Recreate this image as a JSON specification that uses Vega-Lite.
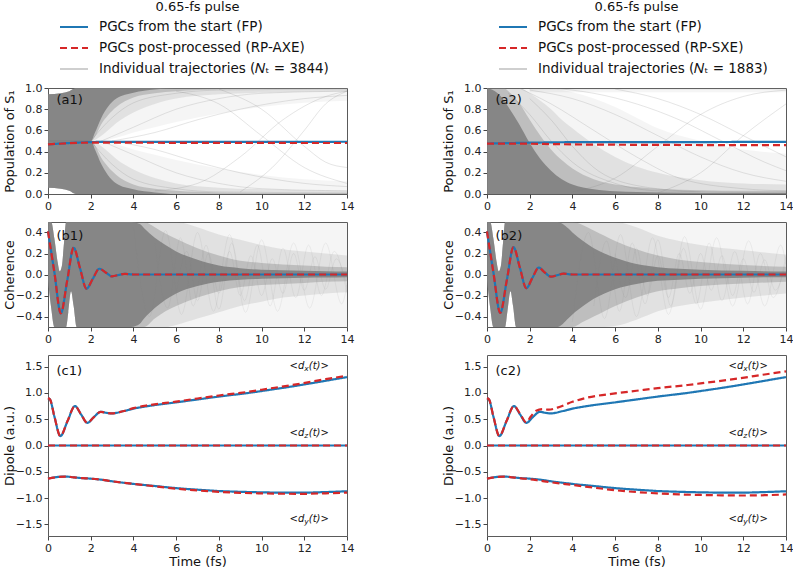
{
  "$schema": "https://vega.github.io/schema/vega-lite/v6.json",
  "background": "white",
  "padding": {"left": 2, "top": 0, "right": 0, "bottom": 0},
  "config": {
    "font": "DejaVu Sans",
    "view": {"stroke": "#5a5a5a", "strokeWidth": 1},
    "axis": {"domain": false, "grid": false, "tickColor": "#444", "tickSize": 4, "tickWidth": 1, "labelFontSize": 11, "labelColor": "#222", "labelFont": "DejaVu Sans", "labelPadding": 2, "labelFlush": false, "labelOverlap": false, "titleFontSize": 13, "titleFontWeight": "normal", "titleColor": "#111", "titleFont": "DejaVu Sans"},
    "axisX": {"titlePadding": 2},
    "legend": {"layout": {"top": {"anchor": "middle"}}}
  },
  "datasets": {
    "mean": [
      {"p":"a1","s":"FP","c":"m","t":0,"v":0.468},{"p":"a1","s":"FP","c":"m","t":0.5,"v":0.475},{"p":"a1","s":"FP","c":"m","t":1,"v":0.481},{"p":"a1","s":"FP","c":"m","t":1.5,"v":0.486},{"p":"a1","s":"FP","c":"m","t":2,"v":0.49},{"p":"a1","s":"FP","c":"m","t":3,"v":0.492},{"p":"a1","s":"FP","c":"m","t":4,"v":0.492},{"p":"a1","s":"FP","c":"m","t":6,"v":0.492},{"p":"a1","s":"FP","c":"m","t":8,"v":0.492},{"p":"a1","s":"FP","c":"m","t":10,"v":0.492},{"p":"a1","s":"FP","c":"m","t":12,"v":0.492},{"p":"a1","s":"FP","c":"m","t":14,"v":0.493},
      {"p":"a1","s":"RP","c":"m","t":0,"v":0.468},{"p":"a1","s":"RP","c":"m","t":0.5,"v":0.474},{"p":"a1","s":"RP","c":"m","t":1,"v":0.479},{"p":"a1","s":"RP","c":"m","t":1.5,"v":0.483},{"p":"a1","s":"RP","c":"m","t":2,"v":0.485},{"p":"a1","s":"RP","c":"m","t":3,"v":0.485},{"p":"a1","s":"RP","c":"m","t":4,"v":0.484},{"p":"a1","s":"RP","c":"m","t":6,"v":0.483},{"p":"a1","s":"RP","c":"m","t":8,"v":0.482},{"p":"a1","s":"RP","c":"m","t":10,"v":0.482},{"p":"a1","s":"RP","c":"m","t":12,"v":0.481},{"p":"a1","s":"RP","c":"m","t":14,"v":0.481},
      {"p":"a2","s":"FP","c":"m","t":0,"v":0.476},{"p":"a2","s":"FP","c":"m","t":1,"v":0.48},{"p":"a2","s":"FP","c":"m","t":2,"v":0.484},{"p":"a2","s":"FP","c":"m","t":3,"v":0.487},{"p":"a2","s":"FP","c":"m","t":4,"v":0.489},{"p":"a2","s":"FP","c":"m","t":6,"v":0.49},{"p":"a2","s":"FP","c":"m","t":8,"v":0.49},{"p":"a2","s":"FP","c":"m","t":10,"v":0.49},{"p":"a2","s":"FP","c":"m","t":12,"v":0.491},{"p":"a2","s":"FP","c":"m","t":14,"v":0.491},
      {"p":"a2","s":"RP","c":"m","t":0,"v":0.476},{"p":"a2","s":"RP","c":"m","t":1,"v":0.476},{"p":"a2","s":"RP","c":"m","t":2,"v":0.474},{"p":"a2","s":"RP","c":"m","t":3,"v":0.471},{"p":"a2","s":"RP","c":"m","t":4,"v":0.468},{"p":"a2","s":"RP","c":"m","t":6,"v":0.465},{"p":"a2","s":"RP","c":"m","t":8,"v":0.463},{"p":"a2","s":"RP","c":"m","t":10,"v":0.462},{"p":"a2","s":"RP","c":"m","t":12,"v":0.461},{"p":"a2","s":"RP","c":"m","t":14,"v":0.461},
      {"p":"b1","s":"FP","c":"m","t":0,"v":0.41},{"p":"b1","s":"FP","c":"m","t":0.3,"v":0.02},{"p":"b1","s":"FP","c":"m","t":0.6,"v":-0.37},{"p":"b1","s":"FP","c":"m","t":0.9,"v":-0.057},{"p":"b1","s":"FP","c":"m","t":1.2,"v":0.255},{"p":"b1","s":"FP","c":"m","t":1.5,"v":0.06},{"p":"b1","s":"FP","c":"m","t":1.8,"v":-0.135},{"p":"b1","s":"FP","c":"m","t":2.1,"v":-0.04},{"p":"b1","s":"FP","c":"m","t":2.4,"v":0.055},{"p":"b1","s":"FP","c":"m","t":2.7,"v":0.019},{"p":"b1","s":"FP","c":"m","t":3,"v":-0.017},{"p":"b1","s":"FP","c":"m","t":3.3,"v":-0.005},{"p":"b1","s":"FP","c":"m","t":3.6,"v":0.006},{"p":"b1","s":"FP","c":"m","t":4,"v":0},{"p":"b1","s":"FP","c":"m","t":5,"v":0},{"p":"b1","s":"FP","c":"m","t":14,"v":0},
      {"p":"b1","s":"RP","c":"m","t":0,"v":0.41},{"p":"b1","s":"RP","c":"m","t":0.3,"v":0.02},{"p":"b1","s":"RP","c":"m","t":0.6,"v":-0.37},{"p":"b1","s":"RP","c":"m","t":0.9,"v":-0.057},{"p":"b1","s":"RP","c":"m","t":1.2,"v":0.255},{"p":"b1","s":"RP","c":"m","t":1.5,"v":0.06},{"p":"b1","s":"RP","c":"m","t":1.8,"v":-0.135},{"p":"b1","s":"RP","c":"m","t":2.1,"v":-0.04},{"p":"b1","s":"RP","c":"m","t":2.4,"v":0.055},{"p":"b1","s":"RP","c":"m","t":2.7,"v":0.019},{"p":"b1","s":"RP","c":"m","t":3,"v":-0.017},{"p":"b1","s":"RP","c":"m","t":3.3,"v":-0.005},{"p":"b1","s":"RP","c":"m","t":3.6,"v":0.006},{"p":"b1","s":"RP","c":"m","t":4,"v":0},{"p":"b1","s":"RP","c":"m","t":5,"v":0},{"p":"b1","s":"RP","c":"m","t":14,"v":0},
      {"p":"b2","s":"FP","c":"m","t":0,"v":0.41},{"p":"b2","s":"FP","c":"m","t":0.3,"v":0.02},{"p":"b2","s":"FP","c":"m","t":0.62,"v":-0.365},{"p":"b2","s":"FP","c":"m","t":0.93,"v":-0.052},{"p":"b2","s":"FP","c":"m","t":1.24,"v":0.26},{"p":"b2","s":"FP","c":"m","t":1.54,"v":0.065},{"p":"b2","s":"FP","c":"m","t":1.84,"v":-0.13},{"p":"b2","s":"FP","c":"m","t":2.13,"v":-0.03},{"p":"b2","s":"FP","c":"m","t":2.42,"v":0.065},{"p":"b2","s":"FP","c":"m","t":2.7,"v":0.02},{"p":"b2","s":"FP","c":"m","t":3,"v":-0.02},{"p":"b2","s":"FP","c":"m","t":3.3,"v":-0.006},{"p":"b2","s":"FP","c":"m","t":3.58,"v":0.008},{"p":"b2","s":"FP","c":"m","t":4,"v":0},{"p":"b2","s":"FP","c":"m","t":5,"v":0},{"p":"b2","s":"FP","c":"m","t":14,"v":0},
      {"p":"b2","s":"RP","c":"m","t":0,"v":0.41},{"p":"b2","s":"RP","c":"m","t":0.3,"v":0.02},{"p":"b2","s":"RP","c":"m","t":0.62,"v":-0.365},{"p":"b2","s":"RP","c":"m","t":0.93,"v":-0.052},{"p":"b2","s":"RP","c":"m","t":1.24,"v":0.26},{"p":"b2","s":"RP","c":"m","t":1.54,"v":0.065},{"p":"b2","s":"RP","c":"m","t":1.84,"v":-0.13},{"p":"b2","s":"RP","c":"m","t":2.13,"v":-0.03},{"p":"b2","s":"RP","c":"m","t":2.42,"v":0.065},{"p":"b2","s":"RP","c":"m","t":2.7,"v":0.02},{"p":"b2","s":"RP","c":"m","t":3,"v":-0.02},{"p":"b2","s":"RP","c":"m","t":3.3,"v":-0.006},{"p":"b2","s":"RP","c":"m","t":3.58,"v":0.008},{"p":"b2","s":"RP","c":"m","t":4,"v":0},{"p":"b2","s":"RP","c":"m","t":5,"v":0},{"p":"b2","s":"RP","c":"m","t":14,"v":0},
      {"p":"c1","s":"FP","c":"x","t":0,"v":0.9},{"p":"c1","s":"FP","c":"x","t":0.1,"v":0.87},{"p":"c1","s":"FP","c":"x","t":0.3,"v":0.55},{"p":"c1","s":"FP","c":"x","t":0.58,"v":0.18},{"p":"c1","s":"FP","c":"x","t":0.92,"v":0.47},{"p":"c1","s":"FP","c":"x","t":1.26,"v":0.75},{"p":"c1","s":"FP","c":"x","t":1.55,"v":0.59},{"p":"c1","s":"FP","c":"x","t":1.84,"v":0.43},{"p":"c1","s":"FP","c":"x","t":2.15,"v":0.54},{"p":"c1","s":"FP","c":"x","t":2.47,"v":0.64},{"p":"c1","s":"FP","c":"x","t":2.75,"v":0.62},{"p":"c1","s":"FP","c":"x","t":3,"v":0.61},{"p":"c1","s":"FP","c":"x","t":3.5,"v":0.65},{"p":"c1","s":"FP","c":"x","t":4,"v":0.7},{"p":"c1","s":"FP","c":"x","t":4.7,"v":0.75},{"p":"c1","s":"FP","c":"x","t":6,"v":0.82},{"p":"c1","s":"FP","c":"x","t":7,"v":0.875},{"p":"c1","s":"FP","c":"x","t":8,"v":0.93},{"p":"c1","s":"FP","c":"x","t":9.4,"v":1.0},{"p":"c1","s":"FP","c":"x","t":10,"v":1.035},{"p":"c1","s":"FP","c":"x","t":11.7,"v":1.14},{"p":"c1","s":"FP","c":"x","t":13,"v":1.23},{"p":"c1","s":"FP","c":"x","t":14,"v":1.3},
      {"p":"c1","s":"RP","c":"x","t":0,"v":0.9},{"p":"c1","s":"RP","c":"x","t":0.1,"v":0.87},{"p":"c1","s":"RP","c":"x","t":0.3,"v":0.55},{"p":"c1","s":"RP","c":"x","t":0.58,"v":0.18},{"p":"c1","s":"RP","c":"x","t":0.92,"v":0.47},{"p":"c1","s":"RP","c":"x","t":1.26,"v":0.75},{"p":"c1","s":"RP","c":"x","t":1.55,"v":0.59},{"p":"c1","s":"RP","c":"x","t":1.84,"v":0.43},{"p":"c1","s":"RP","c":"x","t":2.15,"v":0.54},{"p":"c1","s":"RP","c":"x","t":2.47,"v":0.64},{"p":"c1","s":"RP","c":"x","t":2.75,"v":0.62},{"p":"c1","s":"RP","c":"x","t":3,"v":0.61},{"p":"c1","s":"RP","c":"x","t":3.5,"v":0.65},{"p":"c1","s":"RP","c":"x","t":4,"v":0.71},{"p":"c1","s":"RP","c":"x","t":4.7,"v":0.765},{"p":"c1","s":"RP","c":"x","t":6,"v":0.835},{"p":"c1","s":"RP","c":"x","t":7,"v":0.893},{"p":"c1","s":"RP","c":"x","t":8,"v":0.95},{"p":"c1","s":"RP","c":"x","t":9.4,"v":1.022},{"p":"c1","s":"RP","c":"x","t":10,"v":1.06},{"p":"c1","s":"RP","c":"x","t":11.7,"v":1.167},{"p":"c1","s":"RP","c":"x","t":13,"v":1.26},{"p":"c1","s":"RP","c":"x","t":14,"v":1.325},
      {"p":"c1","s":"FP","c":"z","t":0,"v":0},{"p":"c1","s":"FP","c":"z","t":14,"v":0},{"p":"c1","s":"RP","c":"z","t":0,"v":0},{"p":"c1","s":"RP","c":"z","t":14,"v":0},
      {"p":"c1","s":"FP","c":"y","t":0,"v":-0.63},{"p":"c1","s":"FP","c":"y","t":0.4,"v":-0.6},{"p":"c1","s":"FP","c":"y","t":0.8,"v":-0.59},{"p":"c1","s":"FP","c":"y","t":1.2,"v":-0.605},{"p":"c1","s":"FP","c":"y","t":1.6,"v":-0.62},{"p":"c1","s":"FP","c":"y","t":2,"v":-0.63},{"p":"c1","s":"FP","c":"y","t":2.5,"v":-0.65},{"p":"c1","s":"FP","c":"y","t":3,"v":-0.68},{"p":"c1","s":"FP","c":"y","t":4,"v":-0.73},{"p":"c1","s":"FP","c":"y","t":5,"v":-0.77},{"p":"c1","s":"FP","c":"y","t":6,"v":-0.81},{"p":"c1","s":"FP","c":"y","t":7,"v":-0.84},{"p":"c1","s":"FP","c":"y","t":8,"v":-0.865},{"p":"c1","s":"FP","c":"y","t":9,"v":-0.88},{"p":"c1","s":"FP","c":"y","t":10,"v":-0.89},{"p":"c1","s":"FP","c":"y","t":11,"v":-0.895},{"p":"c1","s":"FP","c":"y","t":12,"v":-0.895},{"p":"c1","s":"FP","c":"y","t":13,"v":-0.885},{"p":"c1","s":"FP","c":"y","t":14,"v":-0.87},
      {"p":"c1","s":"RP","c":"y","t":0,"v":-0.63},{"p":"c1","s":"RP","c":"y","t":0.4,"v":-0.6},{"p":"c1","s":"RP","c":"y","t":0.8,"v":-0.59},{"p":"c1","s":"RP","c":"y","t":1.2,"v":-0.605},{"p":"c1","s":"RP","c":"y","t":1.6,"v":-0.62},{"p":"c1","s":"RP","c":"y","t":2,"v":-0.63},{"p":"c1","s":"RP","c":"y","t":2.5,"v":-0.65},{"p":"c1","s":"RP","c":"y","t":3,"v":-0.68},{"p":"c1","s":"RP","c":"y","t":4,"v":-0.73},{"p":"c1","s":"RP","c":"y","t":5,"v":-0.775},{"p":"c1","s":"RP","c":"y","t":6,"v":-0.82},{"p":"c1","s":"RP","c":"y","t":7,"v":-0.855},{"p":"c1","s":"RP","c":"y","t":8,"v":-0.88},{"p":"c1","s":"RP","c":"y","t":9,"v":-0.9},{"p":"c1","s":"RP","c":"y","t":10,"v":-0.91},{"p":"c1","s":"RP","c":"y","t":11,"v":-0.917},{"p":"c1","s":"RP","c":"y","t":12,"v":-0.918},{"p":"c1","s":"RP","c":"y","t":13,"v":-0.908},{"p":"c1","s":"RP","c":"y","t":14,"v":-0.895},
      {"p":"c2","s":"FP","c":"x","t":0,"v":0.9},{"p":"c2","s":"FP","c":"x","t":0.1,"v":0.87},{"p":"c2","s":"FP","c":"x","t":0.3,"v":0.55},{"p":"c2","s":"FP","c":"x","t":0.58,"v":0.18},{"p":"c2","s":"FP","c":"x","t":0.92,"v":0.47},{"p":"c2","s":"FP","c":"x","t":1.26,"v":0.75},{"p":"c2","s":"FP","c":"x","t":1.55,"v":0.59},{"p":"c2","s":"FP","c":"x","t":1.84,"v":0.43},{"p":"c2","s":"FP","c":"x","t":2.15,"v":0.54},{"p":"c2","s":"FP","c":"x","t":2.47,"v":0.64},{"p":"c2","s":"FP","c":"x","t":2.75,"v":0.62},{"p":"c2","s":"FP","c":"x","t":3,"v":0.61},{"p":"c2","s":"FP","c":"x","t":3.5,"v":0.65},{"p":"c2","s":"FP","c":"x","t":4,"v":0.7},{"p":"c2","s":"FP","c":"x","t":4.7,"v":0.75},{"p":"c2","s":"FP","c":"x","t":6,"v":0.82},{"p":"c2","s":"FP","c":"x","t":7,"v":0.875},{"p":"c2","s":"FP","c":"x","t":8,"v":0.93},{"p":"c2","s":"FP","c":"x","t":9.4,"v":1.0},{"p":"c2","s":"FP","c":"x","t":10,"v":1.035},{"p":"c2","s":"FP","c":"x","t":11.7,"v":1.14},{"p":"c2","s":"FP","c":"x","t":13,"v":1.23},{"p":"c2","s":"FP","c":"x","t":14,"v":1.3},
      {"p":"c2","s":"RP","c":"x","t":0,"v":0.9},{"p":"c2","s":"RP","c":"x","t":0.1,"v":0.87},{"p":"c2","s":"RP","c":"x","t":0.3,"v":0.55},{"p":"c2","s":"RP","c":"x","t":0.58,"v":0.18},{"p":"c2","s":"RP","c":"x","t":0.92,"v":0.47},{"p":"c2","s":"RP","c":"x","t":1.26,"v":0.75},{"p":"c2","s":"RP","c":"x","t":1.55,"v":0.6},{"p":"c2","s":"RP","c":"x","t":1.84,"v":0.44},{"p":"c2","s":"RP","c":"x","t":2.05,"v":0.55},{"p":"c2","s":"RP","c":"x","t":2.3,"v":0.66},{"p":"c2","s":"RP","c":"x","t":2.6,"v":0.69},{"p":"c2","s":"RP","c":"x","t":2.9,"v":0.68},{"p":"c2","s":"RP","c":"x","t":3.3,"v":0.72},{"p":"c2","s":"RP","c":"x","t":4,"v":0.83},{"p":"c2","s":"RP","c":"x","t":4.7,"v":0.91},{"p":"c2","s":"RP","c":"x","t":6,"v":0.99},{"p":"c2","s":"RP","c":"x","t":7,"v":1.04},{"p":"c2","s":"RP","c":"x","t":8,"v":1.09},{"p":"c2","s":"RP","c":"x","t":9.4,"v":1.15},{"p":"c2","s":"RP","c":"x","t":10,"v":1.18},{"p":"c2","s":"RP","c":"x","t":11.7,"v":1.27},{"p":"c2","s":"RP","c":"x","t":13,"v":1.35},{"p":"c2","s":"RP","c":"x","t":14,"v":1.41},
      {"p":"c2","s":"FP","c":"z","t":0,"v":0},{"p":"c2","s":"FP","c":"z","t":14,"v":0},{"p":"c2","s":"RP","c":"z","t":0,"v":0},{"p":"c2","s":"RP","c":"z","t":14,"v":0},
      {"p":"c2","s":"FP","c":"y","t":0,"v":-0.63},{"p":"c2","s":"FP","c":"y","t":0.4,"v":-0.6},{"p":"c2","s":"FP","c":"y","t":0.8,"v":-0.59},{"p":"c2","s":"FP","c":"y","t":1.2,"v":-0.605},{"p":"c2","s":"FP","c":"y","t":1.6,"v":-0.62},{"p":"c2","s":"FP","c":"y","t":2,"v":-0.63},{"p":"c2","s":"FP","c":"y","t":2.5,"v":-0.65},{"p":"c2","s":"FP","c":"y","t":3,"v":-0.68},{"p":"c2","s":"FP","c":"y","t":4,"v":-0.73},{"p":"c2","s":"FP","c":"y","t":5,"v":-0.77},{"p":"c2","s":"FP","c":"y","t":6,"v":-0.81},{"p":"c2","s":"FP","c":"y","t":7,"v":-0.84},{"p":"c2","s":"FP","c":"y","t":8,"v":-0.865},{"p":"c2","s":"FP","c":"y","t":9,"v":-0.88},{"p":"c2","s":"FP","c":"y","t":10,"v":-0.89},{"p":"c2","s":"FP","c":"y","t":11,"v":-0.895},{"p":"c2","s":"FP","c":"y","t":12,"v":-0.895},{"p":"c2","s":"FP","c":"y","t":13,"v":-0.885},{"p":"c2","s":"FP","c":"y","t":14,"v":-0.87},
      {"p":"c2","s":"RP","c":"y","t":0,"v":-0.63},{"p":"c2","s":"RP","c":"y","t":0.4,"v":-0.6},{"p":"c2","s":"RP","c":"y","t":0.8,"v":-0.59},{"p":"c2","s":"RP","c":"y","t":1.2,"v":-0.605},{"p":"c2","s":"RP","c":"y","t":1.6,"v":-0.625},{"p":"c2","s":"RP","c":"y","t":2,"v":-0.64},{"p":"c2","s":"RP","c":"y","t":2.5,"v":-0.67},{"p":"c2","s":"RP","c":"y","t":3,"v":-0.7},{"p":"c2","s":"RP","c":"y","t":4,"v":-0.75},{"p":"c2","s":"RP","c":"y","t":5,"v":-0.8},{"p":"c2","s":"RP","c":"y","t":6,"v":-0.85},{"p":"c2","s":"RP","c":"y","t":7,"v":-0.885},{"p":"c2","s":"RP","c":"y","t":8,"v":-0.91},{"p":"c2","s":"RP","c":"y","t":9,"v":-0.93},{"p":"c2","s":"RP","c":"y","t":10,"v":-0.94},{"p":"c2","s":"RP","c":"y","t":11,"v":-0.947},{"p":"c2","s":"RP","c":"y","t":12,"v":-0.95},{"p":"c2","s":"RP","c":"y","t":13,"v":-0.945},{"p":"c2","s":"RP","c":"y","t":14,"v":-0.93}
    ],
    "traj": [
      {"p":"a1","id":1,"t":2,"v":0.5},{"p":"a1","id":1,"t":3,"v":0.72},{"p":"a1","id":1,"t":4,"v":0.86},{"p":"a1","id":1,"t":6,"v":0.95},{"p":"a1","id":1,"t":8,"v":0.98},{"p":"a1","id":1,"t":14,"v":0.99},
      {"p":"a1","id":2,"t":2,"v":0.5},{"p":"a1","id":2,"t":3,"v":0.28},{"p":"a1","id":2,"t":4,"v":0.14},{"p":"a1","id":2,"t":6,"v":0.05},{"p":"a1","id":2,"t":8,"v":0.02},{"p":"a1","id":2,"t":14,"v":0.01},
      {"p":"a1","id":3,"t":2.5,"v":0.5},{"p":"a1","id":3,"t":4,"v":0.63},{"p":"a1","id":3,"t":6,"v":0.8},{"p":"a1","id":3,"t":8,"v":0.9},{"p":"a1","id":3,"t":10,"v":0.95},{"p":"a1","id":3,"t":14,"v":0.97},
      {"p":"a1","id":4,"t":2.5,"v":0.5},{"p":"a1","id":4,"t":4,"v":0.37},{"p":"a1","id":4,"t":6,"v":0.2},{"p":"a1","id":4,"t":8,"v":0.1},{"p":"a1","id":4,"t":10,"v":0.05},{"p":"a1","id":4,"t":14,"v":0.03},
      {"p":"a1","id":5,"t":5,"v":0.03},{"p":"a1","id":5,"t":7,"v":0.1},{"p":"a1","id":5,"t":9,"v":0.35},{"p":"a1","id":5,"t":11,"v":0.7},{"p":"a1","id":5,"t":13,"v":0.92},{"p":"a1","id":5,"t":14,"v":0.97},
      {"p":"a1","id":6,"t":6,"v":0.97},{"p":"a1","id":6,"t":8,"v":0.85},{"p":"a1","id":6,"t":10,"v":0.55},{"p":"a1","id":6,"t":12,"v":0.25},{"p":"a1","id":6,"t":14,"v":0.1},
      {"p":"a1","id":7,"t":3,"v":0.5},{"p":"a1","id":7,"t":5,"v":0.58},{"p":"a1","id":7,"t":7,"v":0.7},{"p":"a1","id":7,"t":9,"v":0.8},{"p":"a1","id":7,"t":12,"v":0.9},{"p":"a1","id":7,"t":14,"v":0.93},
      {"p":"a1","id":8,"t":3,"v":0.5},{"p":"a1","id":8,"t":5,"v":0.42},{"p":"a1","id":8,"t":7,"v":0.3},{"p":"a1","id":8,"t":9,"v":0.2},{"p":"a1","id":8,"t":12,"v":0.1},{"p":"a1","id":8,"t":14,"v":0.07},
      {"p":"a1","id":9,"t":9,"v":0.02},{"p":"a1","id":9,"t":10.5,"v":0.25},{"p":"a1","id":9,"t":12,"v":0.6},{"p":"a1","id":9,"t":13,"v":0.85},{"p":"a1","id":9,"t":14,"v":0.97},
      {"p":"a1","id":10,"t":8,"v":0.99},{"p":"a1","id":10,"t":10,"v":0.8},{"p":"a1","id":10,"t":12,"v":0.45},{"p":"a1","id":10,"t":13,"v":0.3},{"p":"a1","id":10,"t":14,"v":0.25},
      {"p":"a2","id":1,"t":1,"v":0.95},{"p":"a2","id":1,"t":2,"v":0.75},{"p":"a2","id":1,"t":3,"v":0.5},{"p":"a2","id":1,"t":4,"v":0.3},{"p":"a2","id":1,"t":6,"v":0.1},{"p":"a2","id":1,"t":8,"v":0.03},{"p":"a2","id":1,"t":14,"v":0.01},
      {"p":"a2","id":2,"t":1.5,"v":1},{"p":"a2","id":2,"t":3,"v":0.85},{"p":"a2","id":2,"t":5,"v":0.6},{"p":"a2","id":2,"t":7,"v":0.35},{"p":"a2","id":2,"t":9,"v":0.15},{"p":"a2","id":2,"t":12,"v":0.05},{"p":"a2","id":2,"t":14,"v":0.03},
      {"p":"a2","id":3,"t":2,"v":0.98},{"p":"a2","id":3,"t":4,"v":0.9},{"p":"a2","id":3,"t":6,"v":0.75},{"p":"a2","id":3,"t":8,"v":0.55},{"p":"a2","id":3,"t":10,"v":0.35},{"p":"a2","id":3,"t":12,"v":0.2},{"p":"a2","id":3,"t":14,"v":0.12},
      {"p":"a2","id":4,"t":3,"v":1},{"p":"a2","id":4,"t":5,"v":0.95},{"p":"a2","id":4,"t":7,"v":0.85},{"p":"a2","id":4,"t":9,"v":0.7},{"p":"a2","id":4,"t":11,"v":0.5},{"p":"a2","id":4,"t":13,"v":0.3},{"p":"a2","id":4,"t":14,"v":0.22},
      {"p":"a2","id":5,"t":4,"v":0.02},{"p":"a2","id":5,"t":6,"v":0.15},{"p":"a2","id":5,"t":8,"v":0.45},{"p":"a2","id":5,"t":10,"v":0.75},{"p":"a2","id":5,"t":12,"v":0.92},{"p":"a2","id":5,"t":14,"v":0.98},
      {"p":"a2","id":6,"t":6,"v":0.99},{"p":"a2","id":6,"t":8,"v":0.9},{"p":"a2","id":6,"t":10,"v":0.75},{"p":"a2","id":6,"t":12,"v":0.55},{"p":"a2","id":6,"t":14,"v":0.35},
      {"p":"a2","id":7,"t":8,"v":0.01},{"p":"a2","id":7,"t":10,"v":0.2},{"p":"a2","id":7,"t":12,"v":0.55},{"p":"a2","id":7,"t":14,"v":0.85},
      {"p":"a2","id":8,"t":2,"v":0.9},{"p":"a2","id":8,"t":3,"v":0.7},{"p":"a2","id":8,"t":4,"v":0.45},{"p":"a2","id":8,"t":5,"v":0.25},{"p":"a2","id":8,"t":7,"v":0.08},{"p":"a2","id":8,"t":10,"v":0.02},
      {"p":"b1","id":1,"t":5,"v":0.3},{"p":"b1","id":1,"t":5.6,"v":-0.32},{"p":"b1","id":1,"t":6.2,"v":0.35},{"p":"b1","id":1,"t":6.8,"v":-0.3},{"p":"b1","id":1,"t":7.4,"v":0.28},{"p":"b1","id":1,"t":8,"v":-0.33},{"p":"b1","id":1,"t":8.6,"v":0.3},{"p":"b1","id":1,"t":9.2,"v":-0.25},{"p":"b1","id":1,"t":9.8,"v":0.28},{"p":"b1","id":1,"t":10.4,"v":-0.3},{"p":"b1","id":1,"t":11,"v":0.25},{"p":"b1","id":1,"t":11.6,"v":-0.22},{"p":"b1","id":1,"t":12.2,"v":0.28},{"p":"b1","id":1,"t":12.8,"v":-0.2},{"p":"b1","id":1,"t":13.4,"v":0.22},{"p":"b1","id":1,"t":14,"v":-0.18},
      {"p":"b1","id":2,"t":6,"v":-0.2},{"p":"b1","id":2,"t":6.5,"v":0.22},{"p":"b1","id":2,"t":7,"v":-0.25},{"p":"b1","id":2,"t":7.5,"v":0.2},{"p":"b1","id":2,"t":8,"v":-0.18},{"p":"b1","id":2,"t":8.5,"v":0.22},{"p":"b1","id":2,"t":9,"v":-0.2},{"p":"b1","id":2,"t":9.5,"v":0.18},{"p":"b1","id":2,"t":10,"v":-0.2},{"p":"b1","id":2,"t":10.5,"v":0.15},{"p":"b1","id":2,"t":11,"v":-0.18},{"p":"b1","id":2,"t":11.5,"v":0.2},{"p":"b1","id":2,"t":12,"v":-0.15},{"p":"b1","id":2,"t":12.5,"v":0.17},{"p":"b1","id":2,"t":13,"v":-0.14},{"p":"b1","id":2,"t":13.5,"v":0.15},{"p":"b1","id":2,"t":14,"v":-0.12},
      {"p":"b1","id":3,"t":4,"v":0.45},{"p":"b1","id":3,"t":4.75,"v":-0.4},{"p":"b1","id":3,"t":5.5,"v":0.42},{"p":"b1","id":3,"t":6.25,"v":-0.38},{"p":"b1","id":3,"t":7,"v":0.4},{"p":"b1","id":3,"t":7.75,"v":-0.35},{"p":"b1","id":3,"t":8.5,"v":0.38},{"p":"b1","id":3,"t":9.25,"v":-0.36},{"p":"b1","id":3,"t":10,"v":0.33},{"p":"b1","id":3,"t":10.75,"v":-0.35},{"p":"b1","id":3,"t":11.5,"v":0.3},{"p":"b1","id":3,"t":12.25,"v":-0.32},{"p":"b1","id":3,"t":13,"v":0.3},{"p":"b1","id":3,"t":13.75,"v":-0.28},{"p":"b1","id":3,"t":14,"v":-0.1},
      {"p":"b2","id":1,"t":5,"v":-0.3},{"p":"b2","id":1,"t":5.6,"v":0.32},{"p":"b2","id":1,"t":6.2,"v":-0.35},{"p":"b2","id":1,"t":6.8,"v":0.3},{"p":"b2","id":1,"t":7.4,"v":-0.28},{"p":"b2","id":1,"t":8,"v":0.33},{"p":"b2","id":1,"t":8.6,"v":-0.3},{"p":"b2","id":1,"t":9.2,"v":0.25},{"p":"b2","id":1,"t":9.8,"v":-0.28},{"p":"b2","id":1,"t":10.4,"v":0.3},{"p":"b2","id":1,"t":11,"v":-0.25},{"p":"b2","id":1,"t":11.6,"v":0.22},{"p":"b2","id":1,"t":12.2,"v":-0.28},{"p":"b2","id":1,"t":12.8,"v":0.2},{"p":"b2","id":1,"t":13.4,"v":-0.22},{"p":"b2","id":1,"t":14,"v":0.18},
      {"p":"b2","id":2,"t":6,"v":0.2},{"p":"b2","id":2,"t":6.5,"v":-0.22},{"p":"b2","id":2,"t":7,"v":0.25},{"p":"b2","id":2,"t":7.5,"v":-0.2},{"p":"b2","id":2,"t":8,"v":0.18},{"p":"b2","id":2,"t":8.5,"v":-0.22},{"p":"b2","id":2,"t":9,"v":0.2},{"p":"b2","id":2,"t":9.5,"v":-0.18},{"p":"b2","id":2,"t":10,"v":0.2},{"p":"b2","id":2,"t":10.5,"v":-0.15},{"p":"b2","id":2,"t":11,"v":0.18},{"p":"b2","id":2,"t":11.5,"v":-0.2},{"p":"b2","id":2,"t":12,"v":0.15},{"p":"b2","id":2,"t":12.5,"v":-0.17},{"p":"b2","id":2,"t":13,"v":0.14},{"p":"b2","id":2,"t":13.5,"v":-0.15},{"p":"b2","id":2,"t":14,"v":0.12},
      {"p":"b2","id":3,"t":4,"v":-0.45},{"p":"b2","id":3,"t":4.75,"v":0.4},{"p":"b2","id":3,"t":5.5,"v":-0.42},{"p":"b2","id":3,"t":6.25,"v":0.38},{"p":"b2","id":3,"t":7,"v":-0.4},{"p":"b2","id":3,"t":7.75,"v":0.35},{"p":"b2","id":3,"t":8.5,"v":-0.38},{"p":"b2","id":3,"t":9.25,"v":0.36},{"p":"b2","id":3,"t":10,"v":-0.33},{"p":"b2","id":3,"t":10.75,"v":0.35},{"p":"b2","id":3,"t":11.5,"v":-0.3},{"p":"b2","id":3,"t":12.25,"v":0.32},{"p":"b2","id":3,"t":13,"v":-0.3},{"p":"b2","id":3,"t":13.75,"v":0.28},{"p":"b2","id":3,"t":14,"v":0.1}
    ],
    "cloud": [
      {"p":"a1","h":"u","t":0,"lo1":0.495,"hi1":0.94,"lo2":0.495,"hi2":0.94,"lo3":0.495,"hi3":0.94,"lo4":0.495,"hi4":0.94},
      {"p":"a1","h":"u","t":0.6,"lo1":0.495,"hi1":0.95,"lo2":0.495,"hi2":0.95,"lo3":0.495,"hi3":0.95,"lo4":0.495,"hi4":0.95},
      {"p":"a1","h":"u","t":1,"lo1":0.495,"hi1":0.97,"lo2":0.495,"hi2":0.97,"lo3":0.495,"hi3":0.97,"lo4":0.495,"hi4":0.97},
      {"p":"a1","h":"u","t":1.3,"lo1":0.495,"hi1":1,"lo2":0.495,"hi2":1,"lo3":0.495,"hi3":1,"lo4":0.495,"hi4":1},
      {"p":"a1","h":"u","t":2,"lo1":0.495,"hi1":1,"lo2":0.495,"hi2":1,"lo3":0.495,"hi3":1,"lo4":0.495,"hi4":1},
      {"p":"a1","h":"u","t":2.2,"lo1":0.495,"hi1":1,"lo2":0.51,"hi2":1,"lo3":0.54,"hi3":1,"lo4":0.58,"hi4":1},
      {"p":"a1","h":"u","t":2.5,"lo1":0.495,"hi1":1,"lo2":0.55,"hi2":1,"lo3":0.66,"hi3":1,"lo4":0.72,"hi4":1},
      {"p":"a1","h":"u","t":2.8,"lo1":0.51,"hi1":1,"lo2":0.6,"hi2":1,"lo3":0.74,"hi3":1,"lo4":0.82,"hi4":1},
      {"p":"a1","h":"u","t":3.2,"lo1":0.53,"hi1":1,"lo2":0.67,"hi2":1,"lo3":0.82,"hi3":1,"lo4":0.9,"hi4":1},
      {"p":"a1","h":"u","t":4,"lo1":0.58,"hi1":1,"lo2":0.77,"hi2":1,"lo3":0.91,"hi3":1,"lo4":0.955,"hi4":1},
      {"p":"a1","h":"u","t":5,"lo1":0.63,"hi1":1,"lo2":0.85,"hi2":1,"lo3":0.95,"hi3":1,"lo4":0.985,"hi4":1},
      {"p":"a1","h":"u","t":6,"lo1":0.68,"hi1":1,"lo2":0.9,"hi2":1,"lo3":0.97,"hi3":1,"lo4":1,"hi4":1},
      {"p":"a1","h":"u","t":8,"lo1":0.76,"hi1":1,"lo2":0.94,"hi2":1,"lo3":0.985,"hi3":1,"lo4":1,"hi4":1},
      {"p":"a1","h":"u","t":10,"lo1":0.82,"hi1":1,"lo2":0.955,"hi2":1,"lo3":0.99,"hi3":1,"lo4":1,"hi4":1},
      {"p":"a1","h":"u","t":12,"lo1":0.86,"hi1":1,"lo2":0.965,"hi2":1,"lo3":0.99,"hi3":1,"lo4":1,"hi4":1},
      {"p":"a1","h":"u","t":14,"lo1":0.88,"hi1":1,"lo2":0.97,"hi2":1,"lo3":0.99,"hi3":1,"lo4":1,"hi4":1},
      {"p":"a1","h":"d","t":0,"lo1":0.06,"hi1":0.505,"lo2":0.06,"hi2":0.505,"lo3":0.06,"hi3":0.505,"lo4":0.06,"hi4":0.505},
      {"p":"a1","h":"d","t":0.6,"lo1":0.05,"hi1":0.505,"lo2":0.05,"hi2":0.505,"lo3":0.05,"hi3":0.505,"lo4":0.05,"hi4":0.505},
      {"p":"a1","h":"d","t":1,"lo1":0.03,"hi1":0.505,"lo2":0.03,"hi2":0.505,"lo3":0.03,"hi3":0.505,"lo4":0.03,"hi4":0.505},
      {"p":"a1","h":"d","t":1.3,"lo1":0,"hi1":0.505,"lo2":0,"hi2":0.505,"lo3":0,"hi3":0.505,"lo4":0,"hi4":0.505},
      {"p":"a1","h":"d","t":2,"lo1":0,"hi1":0.505,"lo2":0,"hi2":0.505,"lo3":0,"hi3":0.505,"lo4":0,"hi4":0.505},
      {"p":"a1","h":"d","t":2.2,"lo1":0,"hi1":0.505,"lo2":0,"hi2":0.49,"lo3":0,"hi3":0.46,"lo4":0,"hi4":0.42},
      {"p":"a1","h":"d","t":2.5,"lo1":0,"hi1":0.505,"lo2":0,"hi2":0.45,"lo3":0,"hi3":0.34,"lo4":0,"hi4":0.28},
      {"p":"a1","h":"d","t":2.8,"lo1":0,"hi1":0.49,"lo2":0,"hi2":0.4,"lo3":0,"hi3":0.26,"lo4":0,"hi4":0.18},
      {"p":"a1","h":"d","t":3.2,"lo1":0,"hi1":0.47,"lo2":0,"hi2":0.33,"lo3":0,"hi3":0.18,"lo4":0,"hi4":0.1},
      {"p":"a1","h":"d","t":4,"lo1":0,"hi1":0.42,"lo2":0,"hi2":0.23,"lo3":0,"hi3":0.09,"lo4":0,"hi4":0.045},
      {"p":"a1","h":"d","t":5,"lo1":0,"hi1":0.37,"lo2":0,"hi2":0.15,"lo3":0,"hi3":0.05,"lo4":0,"hi4":0.015},
      {"p":"a1","h":"d","t":6,"lo1":0,"hi1":0.32,"lo2":0,"hi2":0.1,"lo3":0,"hi3":0.03,"lo4":0,"hi4":0},
      {"p":"a1","h":"d","t":8,"lo1":0,"hi1":0.24,"lo2":0,"hi2":0.06,"lo3":0,"hi3":0.015,"lo4":0,"hi4":0},
      {"p":"a1","h":"d","t":10,"lo1":0,"hi1":0.18,"lo2":0,"hi2":0.045,"lo3":0,"hi3":0.01,"lo4":0,"hi4":0},
      {"p":"a1","h":"d","t":12,"lo1":0,"hi1":0.14,"lo2":0,"hi2":0.035,"lo3":0,"hi3":0.01,"lo4":0,"hi4":0},
      {"p":"a1","h":"d","t":14,"lo1":0,"hi1":0.12,"lo2":0,"hi2":0.03,"lo3":0,"hi3":0.01,"lo4":0,"hi4":0},
      {"p":"a2","h":"d","t":0,"lo1":0,"hi1":1,"lo2":0,"hi2":1,"lo3":0,"hi3":1,"lo4":0,"hi4":1},
      {"p":"a2","h":"d","t":0.5,"lo1":0,"hi1":1,"lo2":0,"hi2":1,"lo3":0,"hi3":1,"lo4":0,"hi4":0.95},
      {"p":"a2","h":"d","t":0.8,"lo1":0,"hi1":1,"lo2":0,"hi2":1,"lo3":0,"hi3":1,"lo4":0,"hi4":0.88},
      {"p":"a2","h":"d","t":1,"lo1":0,"hi1":1,"lo2":0,"hi2":1,"lo3":0,"hi3":0.97,"lo4":0,"hi4":0.82},
      {"p":"a2","h":"d","t":1.5,"lo1":0,"hi1":1,"lo2":0,"hi2":1,"lo3":0,"hi3":0.86,"lo4":0,"hi4":0.66},
      {"p":"a2","h":"d","t":2,"lo1":0,"hi1":1,"lo2":0,"hi2":0.95,"lo3":0,"hi3":0.7,"lo4":0,"hi4":0.48},
      {"p":"a2","h":"d","t":2.5,"lo1":0,"hi1":1,"lo2":0,"hi2":0.88,"lo3":0,"hi3":0.55,"lo4":0,"hi4":0.33},
      {"p":"a2","h":"d","t":3,"lo1":0,"hi1":1,"lo2":0,"hi2":0.8,"lo3":0,"hi3":0.42,"lo4":0,"hi4":0.22},
      {"p":"a2","h":"d","t":3.5,"lo1":0,"hi1":0.98,"lo2":0,"hi2":0.7,"lo3":0,"hi3":0.32,"lo4":0,"hi4":0.14},
      {"p":"a2","h":"d","t":4,"lo1":0,"hi1":0.96,"lo2":0,"hi2":0.62,"lo3":0,"hi3":0.24,"lo4":0,"hi4":0.09},
      {"p":"a2","h":"d","t":5,"lo1":0,"hi1":0.9,"lo2":0,"hi2":0.47,"lo3":0,"hi3":0.14,"lo4":0,"hi4":0.045},
      {"p":"a2","h":"d","t":6,"lo1":0,"hi1":0.82,"lo2":0,"hi2":0.35,"lo3":0,"hi3":0.09,"lo4":0,"hi4":0.025},
      {"p":"a2","h":"d","t":7,"lo1":0,"hi1":0.72,"lo2":0,"hi2":0.26,"lo3":0,"hi3":0.065,"lo4":0,"hi4":0.018},
      {"p":"a2","h":"d","t":8,"lo1":0,"hi1":0.62,"lo2":0,"hi2":0.2,"lo3":0,"hi3":0.05,"lo4":0,"hi4":0.015},
      {"p":"a2","h":"d","t":10,"lo1":0,"hi1":0.5,"lo2":0,"hi2":0.13,"lo3":0,"hi3":0.035,"lo4":0,"hi4":0.01},
      {"p":"a2","h":"d","t":12,"lo1":0,"hi1":0.42,"lo2":0,"hi2":0.1,"lo3":0,"hi3":0.03,"lo4":0,"hi4":0.01},
      {"p":"a2","h":"d","t":14,"lo1":0,"hi1":0.38,"lo2":0,"hi2":0.09,"lo3":0,"hi3":0.03,"lo4":0,"hi4":0.01},
      {"p":"a2","h":"u","t":2,"lo1":0.96,"hi1":1,"lo2":0.985,"hi2":1,"lo3":1,"hi3":1,"lo4":1,"hi4":1},
      {"p":"a2","h":"u","t":14,"lo1":0.96,"hi1":1,"lo2":0.985,"hi2":1,"lo3":1,"hi3":1,"lo4":1,"hi4":1},
      {"p":"b1","h":"m","t":0,"lo1":-0.05,"hi1":0.5,"lo2":-0.05,"hi2":0.5,"lo3":-0.05,"hi3":0.5,"lo4":-0.05,"hi4":0.5},
      {"p":"b1","h":"m","t":0.15,"lo1":-0.32,"hi1":0.5,"lo2":-0.32,"hi2":0.5,"lo3":-0.32,"hi3":0.5,"lo4":-0.32,"hi4":0.5},
      {"p":"b1","h":"m","t":0.3,"lo1":-0.5,"hi1":0.34,"lo2":-0.5,"hi2":0.34,"lo3":-0.5,"hi3":0.34,"lo4":-0.5,"hi4":0.34},
      {"p":"b1","h":"m","t":0.45,"lo1":-0.5,"hi1":0.12,"lo2":-0.5,"hi2":0.12,"lo3":-0.5,"hi3":0.12,"lo4":-0.5,"hi4":0.12},
      {"p":"b1","h":"m","t":0.55,"lo1":-0.5,"hi1":0.03,"lo2":-0.5,"hi2":0.03,"lo3":-0.5,"hi3":0.03,"lo4":-0.5,"hi4":0.03},
      {"p":"b1","h":"m","t":0.65,"lo1":-0.5,"hi1":0.08,"lo2":-0.5,"hi2":0.08,"lo3":-0.5,"hi3":0.08,"lo4":-0.5,"hi4":0.08},
      {"p":"b1","h":"m","t":0.75,"lo1":-0.5,"hi1":0.3,"lo2":-0.5,"hi2":0.3,"lo3":-0.5,"hi3":0.3,"lo4":-0.5,"hi4":0.3},
      {"p":"b1","h":"m","t":0.85,"lo1":-0.5,"hi1":0.5,"lo2":-0.5,"hi2":0.5,"lo3":-0.5,"hi3":0.5,"lo4":-0.5,"hi4":0.5},
      {"p":"b1","h":"m","t":0.95,"lo1":-0.36,"hi1":0.5,"lo2":-0.36,"hi2":0.5,"lo3":-0.36,"hi3":0.5,"lo4":-0.36,"hi4":0.5},
      {"p":"b1","h":"m","t":1.08,"lo1":-0.16,"hi1":0.5,"lo2":-0.16,"hi2":0.5,"lo3":-0.16,"hi3":0.5,"lo4":-0.16,"hi4":0.5},
      {"p":"b1","h":"m","t":1.2,"lo1":-0.3,"hi1":0.5,"lo2":-0.3,"hi2":0.5,"lo3":-0.3,"hi3":0.5,"lo4":-0.3,"hi4":0.5},
      {"p":"b1","h":"m","t":1.35,"lo1":-0.5,"hi1":0.5,"lo2":-0.5,"hi2":0.5,"lo3":-0.5,"hi3":0.5,"lo4":-0.5,"hi4":0.5},
      {"p":"b1","h":"m","t":3.9,"lo1":-0.5,"hi1":0.5,"lo2":-0.5,"hi2":0.5,"lo3":-0.5,"hi3":0.5,"lo4":-0.5,"hi4":0.5},
      {"p":"b1","h":"m","t":4.3,"lo1":-0.5,"hi1":0.5,"lo2":-0.5,"hi2":0.5,"lo3":-0.5,"hi3":0.5,"lo4":-0.47,"hi4":0.48},
      {"p":"b1","h":"m","t":4.5,"lo1":-0.5,"hi1":0.5,"lo2":-0.5,"hi2":0.5,"lo3":-0.5,"hi3":0.5,"lo4":-0.42,"hi4":0.44},
      {"p":"b1","h":"m","t":5,"lo1":-0.5,"hi1":0.5,"lo2":-0.5,"hi2":0.5,"lo3":-0.42,"hi3":0.45,"lo4":-0.32,"hi4":0.35},
      {"p":"b1","h":"m","t":5.5,"lo1":-0.5,"hi1":0.5,"lo2":-0.5,"hi2":0.5,"lo3":-0.35,"hi3":0.39,"lo4":-0.24,"hi4":0.28},
      {"p":"b1","h":"m","t":6,"lo1":-0.5,"hi1":0.5,"lo2":-0.48,"hi2":0.5,"lo3":-0.3,"hi3":0.34,"lo4":-0.18,"hi4":0.22},
      {"p":"b1","h":"m","t":7,"lo1":-0.5,"hi1":0.5,"lo2":-0.42,"hi2":0.45,"lo3":-0.22,"hi3":0.25,"lo4":-0.11,"hi4":0.14},
      {"p":"b1","h":"m","t":8,"lo1":-0.5,"hi1":0.5,"lo2":-0.36,"hi2":0.38,"lo3":-0.16,"hi3":0.18,"lo4":-0.07,"hi4":0.085},
      {"p":"b1","h":"m","t":9,"lo1":-0.5,"hi1":0.5,"lo2":-0.3,"hi2":0.33,"lo3":-0.12,"hi3":0.13,"lo4":-0.05,"hi4":0.06},
      {"p":"b1","h":"m","t":10,"lo1":-0.5,"hi1":0.5,"lo2":-0.26,"hi2":0.28,"lo3":-0.1,"hi3":0.11,"lo4":-0.04,"hi4":0.045},
      {"p":"b1","h":"m","t":11,"lo1":-0.5,"hi1":0.5,"lo2":-0.22,"hi2":0.24,"lo3":-0.09,"hi3":0.095,"lo4":-0.035,"hi4":0.04},
      {"p":"b1","h":"m","t":12,"lo1":-0.5,"hi1":0.5,"lo2":-0.2,"hi2":0.22,"lo3":-0.08,"hi3":0.085,"lo4":-0.03,"hi4":0.035},
      {"p":"b1","h":"m","t":13,"lo1":-0.5,"hi1":0.5,"lo2":-0.18,"hi2":0.2,"lo3":-0.07,"hi3":0.075,"lo4":-0.028,"hi4":0.03},
      {"p":"b1","h":"m","t":14,"lo1":-0.5,"hi1":0.5,"lo2":-0.17,"hi2":0.18,"lo3":-0.065,"hi3":0.07,"lo4":-0.025,"hi4":0.028},
      {"p":"b2","h":"m","t":0,"lo1":-0.05,"hi1":0.5,"lo2":-0.05,"hi2":0.5,"lo3":-0.05,"hi3":0.5,"lo4":-0.05,"hi4":0.5},
      {"p":"b2","h":"m","t":0.15,"lo1":-0.32,"hi1":0.5,"lo2":-0.32,"hi2":0.5,"lo3":-0.32,"hi3":0.5,"lo4":-0.32,"hi4":0.5},
      {"p":"b2","h":"m","t":0.3,"lo1":-0.5,"hi1":0.34,"lo2":-0.5,"hi2":0.34,"lo3":-0.5,"hi3":0.34,"lo4":-0.5,"hi4":0.34},
      {"p":"b2","h":"m","t":0.45,"lo1":-0.5,"hi1":0.12,"lo2":-0.5,"hi2":0.12,"lo3":-0.5,"hi3":0.12,"lo4":-0.5,"hi4":0.12},
      {"p":"b2","h":"m","t":0.55,"lo1":-0.5,"hi1":0.03,"lo2":-0.5,"hi2":0.03,"lo3":-0.5,"hi3":0.03,"lo4":-0.5,"hi4":0.03},
      {"p":"b2","h":"m","t":0.65,"lo1":-0.5,"hi1":0.08,"lo2":-0.5,"hi2":0.08,"lo3":-0.5,"hi3":0.08,"lo4":-0.5,"hi4":0.08},
      {"p":"b2","h":"m","t":0.75,"lo1":-0.5,"hi1":0.3,"lo2":-0.5,"hi2":0.3,"lo3":-0.5,"hi3":0.3,"lo4":-0.5,"hi4":0.3},
      {"p":"b2","h":"m","t":0.85,"lo1":-0.5,"hi1":0.5,"lo2":-0.5,"hi2":0.5,"lo3":-0.5,"hi3":0.5,"lo4":-0.5,"hi4":0.5},
      {"p":"b2","h":"m","t":0.95,"lo1":-0.36,"hi1":0.5,"lo2":-0.36,"hi2":0.5,"lo3":-0.36,"hi3":0.5,"lo4":-0.36,"hi4":0.5},
      {"p":"b2","h":"m","t":1.1,"lo1":-0.16,"hi1":0.5,"lo2":-0.16,"hi2":0.5,"lo3":-0.16,"hi3":0.5,"lo4":-0.16,"hi4":0.5},
      {"p":"b2","h":"m","t":1.22,"lo1":-0.3,"hi1":0.5,"lo2":-0.3,"hi2":0.5,"lo3":-0.3,"hi3":0.5,"lo4":-0.3,"hi4":0.5},
      {"p":"b2","h":"m","t":1.37,"lo1":-0.5,"hi1":0.5,"lo2":-0.5,"hi2":0.5,"lo3":-0.5,"hi3":0.5,"lo4":-0.5,"hi4":0.5},
      {"p":"b2","h":"m","t":3.3,"lo1":-0.5,"hi1":0.5,"lo2":-0.5,"hi2":0.5,"lo3":-0.5,"hi3":0.5,"lo4":-0.5,"hi4":0.5},
      {"p":"b2","h":"m","t":3.8,"lo1":-0.5,"hi1":0.5,"lo2":-0.5,"hi2":0.5,"lo3":-0.5,"hi3":0.5,"lo4":-0.42,"hi4":0.44},
      {"p":"b2","h":"m","t":4,"lo1":-0.5,"hi1":0.5,"lo2":-0.5,"hi2":0.5,"lo3":-0.5,"hi3":0.5,"lo4":-0.38,"hi4":0.4},
      {"p":"b2","h":"m","t":4.5,"lo1":-0.5,"hi1":0.5,"lo2":-0.5,"hi2":0.5,"lo3":-0.45,"hi3":0.47,"lo4":-0.3,"hi4":0.32},
      {"p":"b2","h":"m","t":5,"lo1":-0.5,"hi1":0.5,"lo2":-0.5,"hi2":0.5,"lo3":-0.4,"hi3":0.42,"lo4":-0.23,"hi4":0.25},
      {"p":"b2","h":"m","t":5.5,"lo1":-0.5,"hi1":0.5,"lo2":-0.5,"hi2":0.5,"lo3":-0.35,"hi3":0.37,"lo4":-0.18,"hi4":0.2},
      {"p":"b2","h":"m","t":6,"lo1":-0.5,"hi1":0.5,"lo2":-0.49,"hi2":0.5,"lo3":-0.3,"hi3":0.32,"lo4":-0.14,"hi4":0.16},
      {"p":"b2","h":"m","t":7,"lo1":-0.5,"hi1":0.5,"lo2":-0.43,"hi2":0.45,"lo3":-0.22,"hi3":0.24,"lo4":-0.09,"hi4":0.1},
      {"p":"b2","h":"m","t":8,"lo1":-0.5,"hi1":0.5,"lo2":-0.35,"hi2":0.37,"lo3":-0.16,"hi3":0.18,"lo4":-0.06,"hi4":0.07},
      {"p":"b2","h":"m","t":9,"lo1":-0.5,"hi1":0.5,"lo2":-0.3,"hi2":0.32,"lo3":-0.13,"hi3":0.14,"lo4":-0.05,"hi4":0.055},
      {"p":"b2","h":"m","t":10,"lo1":-0.5,"hi1":0.5,"lo2":-0.27,"hi2":0.28,"lo3":-0.11,"hi3":0.12,"lo4":-0.04,"hi4":0.045},
      {"p":"b2","h":"m","t":12,"lo1":-0.5,"hi1":0.5,"lo2":-0.22,"hi2":0.23,"lo3":-0.085,"hi3":0.09,"lo4":-0.03,"hi4":0.035},
      {"p":"b2","h":"m","t":14,"lo1":-0.5,"hi1":0.5,"lo2":-0.18,"hi2":0.19,"lo3":-0.07,"hi3":0.075,"lo4":-0.025,"hi4":0.028}
    ],
    "tags": [
      {"p":"a1","t":0.4,"v":0.89,"lab":"(a1)"},
      {"p":"a2","t":0.4,"v":0.89,"lab":"(a2)"},
      {"p":"b1","t":0.4,"v":0.37,"lab":"(b1)"},
      {"p":"b2","t":0.4,"v":0.37,"lab":"(b2)"},
      {"p":"c1","t":0.4,"v":1.41,"lab":"(c1)"},
      {"p":"c2","t":0.4,"v":1.41,"lab":"(c2)"}
    ],
    "dip": [
      {"p":"c1","t":12,"v":1.52,"c":"x"},{"p":"c1","t":12,"v":0.23,"c":"z"},{"p":"c1","t":12,"v":-1.4,"c":"y"},
      {"p":"c2","t":12,"v":1.52,"c":"x"},{"p":"c2","t":12,"v":0.23,"c":"z"},{"p":"c2","t":12,"v":-1.4,"c":"y"}
    ]
  },
  "columns": 2,
  "bounds": "flush",
  "spacing": {"row": 28, "column": 140},
  "resolve": {"scale": {"color": "independent", "strokeDash": "independent"}, "legend": {"color": "independent", "strokeDash": "independent"}},
  "concat": [
    {
      "width": 299, "height": 106,
      "title": {"text": "0.65-fs pulse", "anchor": "middle", "frame": "group", "fontSize": 13, "fontWeight": "normal", "color": "#111", "offset": 5},
      "encoding": {"x": {"field": "t", "type": "quantitative", "scale": {"domain": [0, 14], "nice": false}, "axis": {"values": [0, 2, 4, 6, 8, 10, 12, 14], "tickCount": 20, "format": "d", "title": null, "labelOverlap": false}}},
      "layer": [
        {"data": {"name": "cloud"}, "transform": [{"filter": "datum.p == 'a1'"}], "mark": {"type": "area", "color": "#7f7f7f", "opacity": 0.08, "interpolate": "monotone", "clip": true}, "encoding": {"y": {"field": "lo1", "type": "quantitative", "scale": {"domain": [0, 1]}, "title": "Population of S₁", "axis": {"values": [0, 0.2, 0.4, 0.6, 0.8, 1], "tickCount": 20, "format": ".1f", "labelOverlap": false, "titleX": -38.5, "titleBaseline": "middle"}}, "y2": {"field": "hi1"}, "detail": {"field": "h", "type": "nominal"}}},
        {"data": {"name": "cloud"}, "transform": [{"filter": "datum.p == 'a1'"}], "mark": {"type": "area", "color": "#7f7f7f", "opacity": 0.16, "interpolate": "monotone", "clip": true}, "encoding": {"y": {"field": "lo2", "type": "quantitative", "scale": {"domain": [0, 1]}, "title": "Population of S₁"}, "y2": {"field": "hi2"}, "detail": {"field": "h", "type": "nominal"}}},
        {"data": {"name": "cloud"}, "transform": [{"filter": "datum.p == 'a1'"}], "mark": {"type": "area", "color": "#7f7f7f", "opacity": 0.35, "interpolate": "monotone", "clip": true}, "encoding": {"y": {"field": "lo3", "type": "quantitative", "scale": {"domain": [0, 1]}, "title": "Population of S₁"}, "y2": {"field": "hi3"}, "detail": {"field": "h", "type": "nominal"}}},
        {"data": {"name": "cloud"}, "transform": [{"filter": "datum.p == 'a1'"}], "mark": {"type": "area", "color": "#7f7f7f", "opacity": 0.9, "interpolate": "monotone", "clip": true}, "encoding": {"y": {"field": "lo4", "type": "quantitative", "scale": {"domain": [0, 1]}, "title": "Population of S₁"}, "y2": {"field": "hi4"}, "detail": {"field": "h", "type": "nominal"}}},
        {"data": {"name": "traj"}, "transform": [{"filter": "datum.p == 'a1'"}], "mark": {"type": "line", "color": "#7f7f7f", "opacity": 0.2, "strokeWidth": 1, "interpolate": "monotone", "clip": true}, "encoding": {"y": {"field": "v", "type": "quantitative", "scale": {"domain": [0, 1]}, "title": "Population of S₁"}, "detail": {"field": "id", "type": "nominal"}}},
        {"data": {"name": "mean"}, "transform": [{"filter": "datum.p == 'a1' && datum.s == 'FP'"}], "mark": {"type": "line", "strokeWidth": 2.2, "interpolate": "monotone"}, "encoding": {"y": {"field": "v", "type": "quantitative", "scale": {"domain": [0, 1]}, "title": "Population of S₁"}, "detail": {"field": "c", "type": "nominal"},
          "color": {"field": "s", "type": "nominal", "scale": {"domain": ["FP", "RP", "traj"], "range": ["#1f77b4", "#d62728", "#cfcfcf"]}, "legend": {"title": null, "orient": "top", "direction": "vertical", "symbolType": "M-2,0H2", "symbolSize": 196, "symbolStrokeWidth": 2, "labelFontSize": 13.5, "labelColor": "#111", "labelOffset": 17, "labelLimit": 400, "rowPadding": 6, "offset": 12, "labelExpr": "datum.label == 'FP' ? 'PGCs from the start (FP)' : datum.label == 'RP' ? 'PGCs post-processed (RP-AXE)' : 'Individual trajectories (𝑁ₜ = 3844)'"}},
          "strokeDash": {"field": "s", "type": "nominal", "scale": {"domain": ["FP", "RP", "traj"], "range": [[1, 0], [7, 4], [1, 0]]}, "legend": {"title": null, "orient": "top", "direction": "vertical", "symbolType": "M-2,0H2", "symbolSize": 196, "symbolStrokeWidth": 2, "labelFontSize": 13.5, "labelColor": "#111", "labelOffset": 17, "labelLimit": 400, "rowPadding": 6, "offset": 12, "labelExpr": "datum.label == 'FP' ? 'PGCs from the start (FP)' : datum.label == 'RP' ? 'PGCs post-processed (RP-AXE)' : 'Individual trajectories (𝑁ₜ = 3844)'"}}}},
        {"data": {"name": "mean"}, "transform": [{"filter": "datum.p == 'a1' && datum.s == 'RP'"}], "mark": {"type": "line", "strokeWidth": 2.2, "interpolate": "monotone"}, "encoding": {"y": {"field": "v", "type": "quantitative", "scale": {"domain": [0, 1]}, "title": "Population of S₁"}, "detail": {"field": "c", "type": "nominal"},
          "color": {"field": "s", "type": "nominal", "scale": {"domain": ["FP", "RP", "traj"], "range": ["#1f77b4", "#d62728", "#cfcfcf"]}},
          "strokeDash": {"field": "s", "type": "nominal", "scale": {"domain": ["FP", "RP", "traj"], "range": [[1, 0], [7, 4], [1, 0]]}}}},
        {"data": {"name": "tags"}, "transform": [{"filter": "datum.p == 'a1'"}], "mark": {"type": "text", "align": "left", "baseline": "middle", "fontSize": 13, "color": "#111"}, "encoding": {"y": {"field": "v", "type": "quantitative", "scale": {"domain": [0, 1]}, "title": "Population of S₁"}, "text": {"field": "lab"}}}
      ]
    },
    {
      "width": 299, "height": 106,
      "title": {"text": "0.65-fs pulse", "anchor": "middle", "frame": "group", "fontSize": 13, "fontWeight": "normal", "color": "#111", "offset": 5},
      "encoding": {"x": {"field": "t", "type": "quantitative", "scale": {"domain": [0, 14], "nice": false}, "axis": {"values": [0, 2, 4, 6, 8, 10, 12, 14], "tickCount": 20, "format": "d", "title": null, "labelOverlap": false}}},
      "layer": [
        {"data": {"name": "cloud"}, "transform": [{"filter": "datum.p == 'a2'"}], "mark": {"type": "area", "color": "#7f7f7f", "opacity": 0.08, "interpolate": "monotone", "clip": true}, "encoding": {"y": {"field": "lo1", "type": "quantitative", "scale": {"domain": [0, 1]}, "title": "Population of S₁", "axis": {"values": [0, 0.2, 0.4, 0.6, 0.8, 1], "tickCount": 20, "format": ".1f", "labelOverlap": false, "titleX": -38.5, "titleBaseline": "middle"}}, "y2": {"field": "hi1"}, "detail": {"field": "h", "type": "nominal"}}},
        {"data": {"name": "cloud"}, "transform": [{"filter": "datum.p == 'a2'"}], "mark": {"type": "area", "color": "#7f7f7f", "opacity": 0.16, "interpolate": "monotone", "clip": true}, "encoding": {"y": {"field": "lo2", "type": "quantitative", "scale": {"domain": [0, 1]}, "title": "Population of S₁"}, "y2": {"field": "hi2"}, "detail": {"field": "h", "type": "nominal"}}},
        {"data": {"name": "cloud"}, "transform": [{"filter": "datum.p == 'a2'"}], "mark": {"type": "area", "color": "#7f7f7f", "opacity": 0.35, "interpolate": "monotone", "clip": true}, "encoding": {"y": {"field": "lo3", "type": "quantitative", "scale": {"domain": [0, 1]}, "title": "Population of S₁"}, "y2": {"field": "hi3"}, "detail": {"field": "h", "type": "nominal"}}},
        {"data": {"name": "cloud"}, "transform": [{"filter": "datum.p == 'a2'"}], "mark": {"type": "area", "color": "#7f7f7f", "opacity": 0.9, "interpolate": "monotone", "clip": true}, "encoding": {"y": {"field": "lo4", "type": "quantitative", "scale": {"domain": [0, 1]}, "title": "Population of S₁"}, "y2": {"field": "hi4"}, "detail": {"field": "h", "type": "nominal"}}},
        {"data": {"name": "traj"}, "transform": [{"filter": "datum.p == 'a2'"}], "mark": {"type": "line", "color": "#7f7f7f", "opacity": 0.2, "strokeWidth": 1, "interpolate": "monotone", "clip": true}, "encoding": {"y": {"field": "v", "type": "quantitative", "scale": {"domain": [0, 1]}, "title": "Population of S₁"}, "detail": {"field": "id", "type": "nominal"}}},
        {"data": {"name": "mean"}, "transform": [{"filter": "datum.p == 'a2' && datum.s == 'FP'"}], "mark": {"type": "line", "strokeWidth": 2.2, "interpolate": "monotone"}, "encoding": {"y": {"field": "v", "type": "quantitative", "scale": {"domain": [0, 1]}, "title": "Population of S₁"}, "detail": {"field": "c", "type": "nominal"},
          "color": {"field": "s", "type": "nominal", "scale": {"domain": ["FP", "RP", "traj"], "range": ["#1f77b4", "#d62728", "#cfcfcf"]}, "legend": {"title": null, "orient": "top", "direction": "vertical", "symbolType": "M-2,0H2", "symbolSize": 196, "symbolStrokeWidth": 2, "labelFontSize": 13.5, "labelColor": "#111", "labelOffset": 17, "labelLimit": 400, "rowPadding": 6, "offset": 12, "labelExpr": "datum.label == 'FP' ? 'PGCs from the start (FP)' : datum.label == 'RP' ? 'PGCs post-processed (RP-SXE)' : 'Individual trajectories (𝑁ₜ = 1883)'"}},
          "strokeDash": {"field": "s", "type": "nominal", "scale": {"domain": ["FP", "RP", "traj"], "range": [[1, 0], [7, 4], [1, 0]]}, "legend": {"title": null, "orient": "top", "direction": "vertical", "symbolType": "M-2,0H2", "symbolSize": 196, "symbolStrokeWidth": 2, "labelFontSize": 13.5, "labelColor": "#111", "labelOffset": 17, "labelLimit": 400, "rowPadding": 6, "offset": 12, "labelExpr": "datum.label == 'FP' ? 'PGCs from the start (FP)' : datum.label == 'RP' ? 'PGCs post-processed (RP-SXE)' : 'Individual trajectories (𝑁ₜ = 1883)'"}}}},
        {"data": {"name": "mean"}, "transform": [{"filter": "datum.p == 'a2' && datum.s == 'RP'"}], "mark": {"type": "line", "strokeWidth": 2.2, "interpolate": "monotone"}, "encoding": {"y": {"field": "v", "type": "quantitative", "scale": {"domain": [0, 1]}, "title": "Population of S₁"}, "detail": {"field": "c", "type": "nominal"},
          "color": {"field": "s", "type": "nominal", "scale": {"domain": ["FP", "RP", "traj"], "range": ["#1f77b4", "#d62728", "#cfcfcf"]}},
          "strokeDash": {"field": "s", "type": "nominal", "scale": {"domain": ["FP", "RP", "traj"], "range": [[1, 0], [7, 4], [1, 0]]}}}},
        {"data": {"name": "tags"}, "transform": [{"filter": "datum.p == 'a2'"}], "mark": {"type": "text", "align": "left", "baseline": "middle", "fontSize": 13, "color": "#111"}, "encoding": {"y": {"field": "v", "type": "quantitative", "scale": {"domain": [0, 1]}, "title": "Population of S₁"}, "text": {"field": "lab"}}}
      ]
    },
    {
      "width": 299, "height": 105,
      "encoding": {"x": {"field": "t", "type": "quantitative", "scale": {"domain": [0, 14], "nice": false}, "axis": {"values": [0, 2, 4, 6, 8, 10, 12, 14], "tickCount": 20, "format": "d", "title": null, "labelOverlap": false}}},
      "layer": [
        {"data": {"name": "cloud"}, "transform": [{"filter": "datum.p == 'b1'"}], "mark": {"type": "area", "color": "#7f7f7f", "opacity": 0.08, "interpolate": "monotone", "clip": true}, "encoding": {"y": {"field": "lo1", "type": "quantitative", "scale": {"domain": [-0.5, 0.5]}, "title": "Coherence", "axis": {"values": [-0.4, -0.2, 0, 0.2, 0.4], "tickCount": 20, "format": ".1f", "labelOverlap": false, "titleX": -38.5, "titleBaseline": "middle"}}, "y2": {"field": "hi1"}, "detail": {"field": "h", "type": "nominal"}}},
        {"data": {"name": "cloud"}, "transform": [{"filter": "datum.p == 'b1'"}], "mark": {"type": "area", "color": "#7f7f7f", "opacity": 0.16, "interpolate": "monotone", "clip": true}, "encoding": {"y": {"field": "lo2", "type": "quantitative", "scale": {"domain": [-0.5, 0.5]}, "title": "Coherence"}, "y2": {"field": "hi2"}, "detail": {"field": "h", "type": "nominal"}}},
        {"data": {"name": "cloud"}, "transform": [{"filter": "datum.p == 'b1'"}], "mark": {"type": "area", "color": "#7f7f7f", "opacity": 0.35, "interpolate": "monotone", "clip": true}, "encoding": {"y": {"field": "lo3", "type": "quantitative", "scale": {"domain": [-0.5, 0.5]}, "title": "Coherence"}, "y2": {"field": "hi3"}, "detail": {"field": "h", "type": "nominal"}}},
        {"data": {"name": "cloud"}, "transform": [{"filter": "datum.p == 'b1'"}], "mark": {"type": "area", "color": "#7f7f7f", "opacity": 0.9, "interpolate": "monotone", "clip": true}, "encoding": {"y": {"field": "lo4", "type": "quantitative", "scale": {"domain": [-0.5, 0.5]}, "title": "Coherence"}, "y2": {"field": "hi4"}, "detail": {"field": "h", "type": "nominal"}}},
        {"data": {"name": "traj"}, "transform": [{"filter": "datum.p == 'b1'"}], "mark": {"type": "line", "color": "#7f7f7f", "opacity": 0.1, "strokeWidth": 1, "interpolate": "monotone", "clip": true}, "encoding": {"y": {"field": "v", "type": "quantitative", "scale": {"domain": [-0.5, 0.5]}, "title": "Coherence"}, "detail": {"field": "id", "type": "nominal"}}},
        {"data": {"name": "mean"}, "transform": [{"filter": "datum.p == 'b1' && datum.s == 'FP'"}], "mark": {"type": "line", "strokeWidth": 2.2, "interpolate": "monotone"}, "encoding": {"y": {"field": "v", "type": "quantitative", "scale": {"domain": [-0.5, 0.5]}, "title": "Coherence"}, "detail": {"field": "c", "type": "nominal"},
          "color": {"field": "s", "type": "nominal", "scale": {"domain": ["FP", "RP", "traj"], "range": ["#1f77b4", "#d62728", "#cfcfcf"]}, "legend": null},
          "strokeDash": {"field": "s", "type": "nominal", "scale": {"domain": ["FP", "RP", "traj"], "range": [[1, 0], [7, 4], [1, 0]]}, "legend": null}}},
        {"data": {"name": "mean"}, "transform": [{"filter": "datum.p == 'b1' && datum.s == 'RP'"}], "mark": {"type": "line", "strokeWidth": 2.2, "interpolate": "monotone"}, "encoding": {"y": {"field": "v", "type": "quantitative", "scale": {"domain": [-0.5, 0.5]}, "title": "Coherence"}, "detail": {"field": "c", "type": "nominal"},
          "color": {"field": "s", "type": "nominal", "scale": {"domain": ["FP", "RP", "traj"], "range": ["#1f77b4", "#d62728", "#cfcfcf"]}, "legend": null},
          "strokeDash": {"field": "s", "type": "nominal", "scale": {"domain": ["FP", "RP", "traj"], "range": [[1, 0], [7, 4], [1, 0]]}, "legend": null}}},
        {"data": {"name": "tags"}, "transform": [{"filter": "datum.p == 'b1'"}], "mark": {"type": "text", "align": "left", "baseline": "middle", "fontSize": 13, "color": "#111"}, "encoding": {"y": {"field": "v", "type": "quantitative", "scale": {"domain": [-0.5, 0.5]}, "title": "Coherence"}, "text": {"field": "lab"}}}
      ]
    },
    {
      "width": 299, "height": 105,
      "encoding": {"x": {"field": "t", "type": "quantitative", "scale": {"domain": [0, 14], "nice": false}, "axis": {"values": [0, 2, 4, 6, 8, 10, 12, 14], "tickCount": 20, "format": "d", "title": null, "labelOverlap": false}}},
      "layer": [
        {"data": {"name": "cloud"}, "transform": [{"filter": "datum.p == 'b2'"}], "mark": {"type": "area", "color": "#7f7f7f", "opacity": 0.08, "interpolate": "monotone", "clip": true}, "encoding": {"y": {"field": "lo1", "type": "quantitative", "scale": {"domain": [-0.5, 0.5]}, "title": "Coherence", "axis": {"values": [-0.4, -0.2, 0, 0.2, 0.4], "tickCount": 20, "format": ".1f", "labelOverlap": false, "titleX": -38.5, "titleBaseline": "middle"}}, "y2": {"field": "hi1"}, "detail": {"field": "h", "type": "nominal"}}},
        {"data": {"name": "cloud"}, "transform": [{"filter": "datum.p == 'b2'"}], "mark": {"type": "area", "color": "#7f7f7f", "opacity": 0.16, "interpolate": "monotone", "clip": true}, "encoding": {"y": {"field": "lo2", "type": "quantitative", "scale": {"domain": [-0.5, 0.5]}, "title": "Coherence"}, "y2": {"field": "hi2"}, "detail": {"field": "h", "type": "nominal"}}},
        {"data": {"name": "cloud"}, "transform": [{"filter": "datum.p == 'b2'"}], "mark": {"type": "area", "color": "#7f7f7f", "opacity": 0.35, "interpolate": "monotone", "clip": true}, "encoding": {"y": {"field": "lo3", "type": "quantitative", "scale": {"domain": [-0.5, 0.5]}, "title": "Coherence"}, "y2": {"field": "hi3"}, "detail": {"field": "h", "type": "nominal"}}},
        {"data": {"name": "cloud"}, "transform": [{"filter": "datum.p == 'b2'"}], "mark": {"type": "area", "color": "#7f7f7f", "opacity": 0.9, "interpolate": "monotone", "clip": true}, "encoding": {"y": {"field": "lo4", "type": "quantitative", "scale": {"domain": [-0.5, 0.5]}, "title": "Coherence"}, "y2": {"field": "hi4"}, "detail": {"field": "h", "type": "nominal"}}},
        {"data": {"name": "traj"}, "transform": [{"filter": "datum.p == 'b2'"}], "mark": {"type": "line", "color": "#7f7f7f", "opacity": 0.1, "strokeWidth": 1, "interpolate": "monotone", "clip": true}, "encoding": {"y": {"field": "v", "type": "quantitative", "scale": {"domain": [-0.5, 0.5]}, "title": "Coherence"}, "detail": {"field": "id", "type": "nominal"}}},
        {"data": {"name": "mean"}, "transform": [{"filter": "datum.p == 'b2' && datum.s == 'FP'"}], "mark": {"type": "line", "strokeWidth": 2.2, "interpolate": "monotone"}, "encoding": {"y": {"field": "v", "type": "quantitative", "scale": {"domain": [-0.5, 0.5]}, "title": "Coherence"}, "detail": {"field": "c", "type": "nominal"},
          "color": {"field": "s", "type": "nominal", "scale": {"domain": ["FP", "RP", "traj"], "range": ["#1f77b4", "#d62728", "#cfcfcf"]}, "legend": null},
          "strokeDash": {"field": "s", "type": "nominal", "scale": {"domain": ["FP", "RP", "traj"], "range": [[1, 0], [7, 4], [1, 0]]}, "legend": null}}},
        {"data": {"name": "mean"}, "transform": [{"filter": "datum.p == 'b2' && datum.s == 'RP'"}], "mark": {"type": "line", "strokeWidth": 2.2, "interpolate": "monotone"}, "encoding": {"y": {"field": "v", "type": "quantitative", "scale": {"domain": [-0.5, 0.5]}, "title": "Coherence"}, "detail": {"field": "c", "type": "nominal"},
          "color": {"field": "s", "type": "nominal", "scale": {"domain": ["FP", "RP", "traj"], "range": ["#1f77b4", "#d62728", "#cfcfcf"]}, "legend": null},
          "strokeDash": {"field": "s", "type": "nominal", "scale": {"domain": ["FP", "RP", "traj"], "range": [[1, 0], [7, 4], [1, 0]]}, "legend": null}}},
        {"data": {"name": "tags"}, "transform": [{"filter": "datum.p == 'b2'"}], "mark": {"type": "text", "align": "left", "baseline": "middle", "fontSize": 13, "color": "#111"}, "encoding": {"y": {"field": "v", "type": "quantitative", "scale": {"domain": [-0.5, 0.5]}, "title": "Coherence"}, "text": {"field": "lab"}}}
      ]
    },
    {
      "width": 299, "height": 181,
      "encoding": {"x": {"field": "t", "type": "quantitative", "scale": {"domain": [0, 14], "nice": false}, "axis": {"values": [0, 2, 4, 6, 8, 10, 12, 14], "tickCount": 20, "format": "d", "title": "Time (fs)", "labelOverlap": false}}},
      "layer": [
        {"data": {"name": "mean"}, "transform": [{"filter": "datum.p == 'c1' && datum.s == 'FP'"}], "mark": {"type": "line", "strokeWidth": 2.2, "interpolate": "monotone"}, "encoding": {"y": {"field": "v", "type": "quantitative", "scale": {"domain": [-1.72, 1.72]}, "title": "Dipole (a.u.)", "axis": {"values": [-1.5, -1, -0.5, 0, 0.5, 1, 1.5], "tickCount": 20, "format": ".1f", "labelOverlap": false, "titleX": -38.5, "titleBaseline": "middle"}}, "detail": {"field": "c", "type": "nominal"},
          "color": {"field": "s", "type": "nominal", "scale": {"domain": ["FP", "RP", "traj"], "range": ["#1f77b4", "#d62728", "#cfcfcf"]}, "legend": null},
          "strokeDash": {"field": "s", "type": "nominal", "scale": {"domain": ["FP", "RP", "traj"], "range": [[1, 0], [7, 4], [1, 0]]}, "legend": null}}},
        {"data": {"name": "mean"}, "transform": [{"filter": "datum.p == 'c1' && datum.s == 'RP'"}], "mark": {"type": "line", "strokeWidth": 2.2, "interpolate": "monotone"}, "encoding": {"y": {"field": "v", "type": "quantitative", "scale": {"domain": [-1.72, 1.72]}, "title": "Dipole (a.u.)"}, "detail": {"field": "c", "type": "nominal"},
          "color": {"field": "s", "type": "nominal", "scale": {"domain": ["FP", "RP", "traj"], "range": ["#1f77b4", "#d62728", "#cfcfcf"]}, "legend": null},
          "strokeDash": {"field": "s", "type": "nominal", "scale": {"domain": ["FP", "RP", "traj"], "range": [[1, 0], [7, 4], [1, 0]]}, "legend": null}}},
        {"data": {"name": "tags"}, "transform": [{"filter": "datum.p == 'c1'"}], "mark": {"type": "text", "align": "left", "baseline": "middle", "fontSize": 13, "color": "#111"}, "encoding": {"y": {"field": "v", "type": "quantitative", "scale": {"domain": [-1.72, 1.72]}, "title": "Dipole (a.u.)"}, "text": {"field": "lab"}}},
        {"data": {"name": "dip"}, "transform": [{"filter": "datum.p == 'c1'"}], "mark": {"type": "text", "text": "<d", "align": "right", "baseline": "middle", "fontSize": 10, "fontStyle": "italic", "color": "#111"}, "encoding": {"y": {"field": "v", "type": "quantitative", "scale": {"domain": [-1.72, 1.72]}, "title": "Dipole (a.u.)"}}},
        {"data": {"name": "dip"}, "transform": [{"filter": "datum.p == 'c1'"}], "mark": {"type": "text", "align": "left", "baseline": "middle", "dy": 3, "fontSize": 7.5, "fontStyle": "italic", "color": "#111"}, "encoding": {"y": {"field": "v", "type": "quantitative", "scale": {"domain": [-1.72, 1.72]}, "title": "Dipole (a.u.)"}, "text": {"field": "c"}}},
        {"data": {"name": "dip"}, "transform": [{"filter": "datum.p == 'c1'"}], "mark": {"type": "text", "text": "(t)>", "align": "left", "baseline": "middle", "dx": 4.5, "fontSize": 10, "fontStyle": "italic", "color": "#111"}, "encoding": {"y": {"field": "v", "type": "quantitative", "scale": {"domain": [-1.72, 1.72]}, "title": "Dipole (a.u.)"}}}
      ]
    },
    {
      "width": 299, "height": 181,
      "encoding": {"x": {"field": "t", "type": "quantitative", "scale": {"domain": [0, 14], "nice": false}, "axis": {"values": [0, 2, 4, 6, 8, 10, 12, 14], "tickCount": 20, "format": "d", "title": "Time (fs)", "labelOverlap": false}}},
      "layer": [
        {"data": {"name": "mean"}, "transform": [{"filter": "datum.p == 'c2' && datum.s == 'FP'"}], "mark": {"type": "line", "strokeWidth": 2.2, "interpolate": "monotone"}, "encoding": {"y": {"field": "v", "type": "quantitative", "scale": {"domain": [-1.72, 1.72]}, "title": "Dipole (a.u.)", "axis": {"values": [-1.5, -1, -0.5, 0, 0.5, 1, 1.5], "tickCount": 20, "format": ".1f", "labelOverlap": false, "titleX": -38.5, "titleBaseline": "middle"}}, "detail": {"field": "c", "type": "nominal"},
          "color": {"field": "s", "type": "nominal", "scale": {"domain": ["FP", "RP", "traj"], "range": ["#1f77b4", "#d62728", "#cfcfcf"]}, "legend": null},
          "strokeDash": {"field": "s", "type": "nominal", "scale": {"domain": ["FP", "RP", "traj"], "range": [[1, 0], [7, 4], [1, 0]]}, "legend": null}}},
        {"data": {"name": "mean"}, "transform": [{"filter": "datum.p == 'c2' && datum.s == 'RP'"}], "mark": {"type": "line", "strokeWidth": 2.2, "interpolate": "monotone"}, "encoding": {"y": {"field": "v", "type": "quantitative", "scale": {"domain": [-1.72, 1.72]}, "title": "Dipole (a.u.)"}, "detail": {"field": "c", "type": "nominal"},
          "color": {"field": "s", "type": "nominal", "scale": {"domain": ["FP", "RP", "traj"], "range": ["#1f77b4", "#d62728", "#cfcfcf"]}, "legend": null},
          "strokeDash": {"field": "s", "type": "nominal", "scale": {"domain": ["FP", "RP", "traj"], "range": [[1, 0], [7, 4], [1, 0]]}, "legend": null}}},
        {"data": {"name": "tags"}, "transform": [{"filter": "datum.p == 'c2'"}], "mark": {"type": "text", "align": "left", "baseline": "middle", "fontSize": 13, "color": "#111"}, "encoding": {"y": {"field": "v", "type": "quantitative", "scale": {"domain": [-1.72, 1.72]}, "title": "Dipole (a.u.)"}, "text": {"field": "lab"}}},
        {"data": {"name": "dip"}, "transform": [{"filter": "datum.p == 'c2'"}], "mark": {"type": "text", "text": "<d", "align": "right", "baseline": "middle", "fontSize": 10, "fontStyle": "italic", "color": "#111"}, "encoding": {"y": {"field": "v", "type": "quantitative", "scale": {"domain": [-1.72, 1.72]}, "title": "Dipole (a.u.)"}}},
        {"data": {"name": "dip"}, "transform": [{"filter": "datum.p == 'c2'"}], "mark": {"type": "text", "align": "left", "baseline": "middle", "dy": 3, "fontSize": 7.5, "fontStyle": "italic", "color": "#111"}, "encoding": {"y": {"field": "v", "type": "quantitative", "scale": {"domain": [-1.72, 1.72]}, "title": "Dipole (a.u.)"}, "text": {"field": "c"}}},
        {"data": {"name": "dip"}, "transform": [{"filter": "datum.p == 'c2'"}], "mark": {"type": "text", "text": "(t)>", "align": "left", "baseline": "middle", "dx": 4.5, "fontSize": 10, "fontStyle": "italic", "color": "#111"}, "encoding": {"y": {"field": "v", "type": "quantitative", "scale": {"domain": [-1.72, 1.72]}, "title": "Dipole (a.u.)"}}}
      ]
    }
  ]
}
